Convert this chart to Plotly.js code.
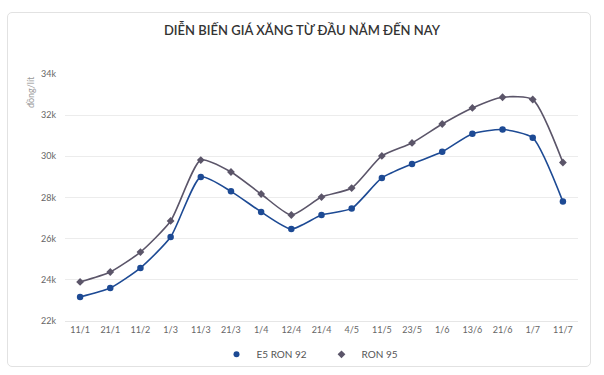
<!DOCTYPE html>
<html><head><meta charset="utf-8">
<script src="https://cdn.plot.ly/plotly-3.0.1.min.js"></script>
<style>
html,body{margin:0;padding:0;background:#fff;}
#card{position:absolute;left:7px;top:12px;width:584px;height:355px;border:1px solid #e2e2e2;border-radius:5px;box-sizing:border-box;}
#chart{position:absolute;left:0;top:0;width:604px;height:375px;}
</style></head>
<body>
<div id="card"></div>
<div id="chart"></div>
<script>
const dates = ['11/1','21/1','11/2','1/3','11/3','21/3','1/4','12/4','21/4','4/5','11/5','23/5','1/6','13/6','21/6','1/7','11/7'];
const e5Ron92 = [23170,23600,24580,26080,29000,28300,27300,26470,27150,27470,28950,29630,30220,31100,31300,30900,27800];
const ron95 = [23900,24380,25350,26860,29820,29240,28170,27150,28020,28460,30020,30650,31570,32350,32870,32760,29700];
const yTicks = [22000,24000,26000,28000,30000,32000,34000];
const yTickText = ['22k','24k','26k','28k','30k','32k','34k'];
const seriesNames = ['E5 RON 92', 'RON 95'];
const colors = ['#1d4a94', '#5b5569'];

const font = 'Lato, "Open Sans", sans-serif';
const traces = [
  {x: dates, y: e5Ron92, name: seriesNames[0], type: 'scatter', mode: 'lines+markers', showlegend: false,
   line: {color: colors[0], width: 1.6, shape: 'spline', smoothing: 0.6},
   marker: {color: colors[0], size: 6.5, symbol: 'circle'}},
  {x: dates, y: ron95, name: seriesNames[1], type: 'scatter', mode: 'lines+markers', showlegend: false,
   line: {color: colors[1], width: 1.6, shape: 'spline', smoothing: 0.6},
   marker: {color: colors[1], size: 6, symbol: 'diamond'}},
  {x: [null], y: [null], name: seriesNames[0], type: 'scatter', mode: 'markers',
   marker: {color: colors[0], size: 6, symbol: 'circle'}},
  {x: [null], y: [null], name: seriesNames[1], type: 'scatter', mode: 'markers',
   marker: {color: colors[1], size: 6, symbol: 'diamond'}}
];
const layout = {
  width: 604, height: 375,
  paper_bgcolor: 'rgba(0,0,0,0)', plot_bgcolor: 'rgba(0,0,0,0)',
  margin: {l: 65, r: 26, t: 74, b: 54, autoexpand: false},
  font: {family: font, color: '#666', size: 9},
  title: {text: 'DIỄN BIẾN GIÁ XĂNG TỪ ĐẦU NĂM ĐẾN NAY', x: 0.5, xanchor: 'center', y: 0.92, yanchor: 'middle',
          font: {family: font, size: 13, color: '#333', weight: 600}},
  xaxis: {type: 'category', range: [-0.5, 16.5], showgrid: false, zeroline: false,
          showline: true, linecolor: '#e6e6e6', linewidth: 1, ticks: '',
          tickfont: {size: 9, color: '#666'}, fixedrange: true},
  yaxis: {range: [22000, 34000], tickvals: yTicks, ticktext: yTickText, showgrid: true,
          gridcolor: '#ececec', gridwidth: 1, zeroline: false, showline: false, ticks: '',
          ticklabelstandoff: 8, tickfont: {size: 9, color: '#666'}},
  showlegend: true,
  legend: {orientation: 'h', x: 0.5, xanchor: 'center', y: -0.135, yanchor: 'middle',
           font: {size: 10, color: '#555'}, itemwidth: 30, traceorder: 'normal',
           entrywidth: 60, entrywidthmode: 'pixels'},
  annotations: [{text: 'đồng/lít', xref: 'paper', yref: 'paper', x: -0.068, y: 1.0,
                 xanchor: 'center', yanchor: 'top', textangle: -90, showarrow: false,
                 font: {size: 9, color: '#999'}}]
};
Plotly.newPlot('chart', traces, layout, {displayModeBar: false, staticPlot: true});
</script>
</body></html>
